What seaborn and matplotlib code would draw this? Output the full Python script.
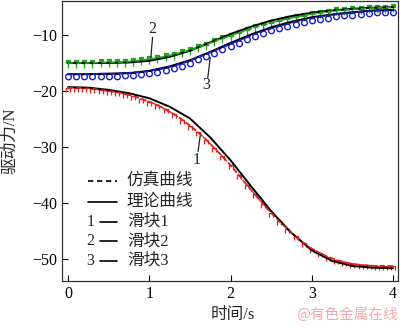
import numpy as np
import pandas as pd
import matplotlib
matplotlib.use("Agg")
import matplotlib.pyplot as plt
from matplotlib.path import Path
import seaborn as sns

# ---- data ----
t_theory = [0, 0.25, 0.5, 0.75, 1, 1.25, 1.5, 1.75, 2, 2.25, 2.5, 2.75, 3, 3.25, 3.5, 3.75, 4]
red_theory = [-19.3, -19.4, -19.8, -20.4, -21.3, -22.8, -24.9, -28.3, -32.4, -37.0, -41.5,
              -45.4, -48.5, -50.4, -51.3, -51.6, -51.7]
green_theory = [-15.0, -15.0, -15.0, -14.9, -14.6, -13.9, -12.8, -11.3, -9.8, -8.5, -7.4,
                -6.6, -6.0, -5.6, -5.3, -5.1, -5.0]
blue_theory = [-17.0, -17.0, -16.9, -16.8, -16.4, -15.6, -14.5, -13.0, -11.4, -9.9, -8.6,
               -7.6, -6.8, -6.3, -5.9, -5.6, -5.5]

t_sim = [0.0, 0.1, 0.2, 0.3, 0.4, 0.5, 0.6, 0.7, 0.8, 0.9, 1.0, 1.1, 1.2, 1.3, 1.4, 1.5, 1.6,
         1.7, 1.8, 1.9, 2.0, 2.1, 2.2, 2.3, 2.4, 2.5, 2.6, 2.7, 2.8, 2.9, 3.0, 3.1, 3.2, 3.3,
         3.4, 3.5, 3.6, 3.7, 3.8, 3.9, 4.0]
red_sim = [-19.4, -19.4, -19.5, -19.6, -19.8, -20.0, -20.2, -20.5, -20.9, -21.4, -21.9, -22.5,
           -23.3, -24.1, -25.1, -26.2, -27.4, -28.7, -30.2, -31.7, -33.3, -35.0, -36.8, -38.5,
           -40.2, -41.8, -43.3, -44.7, -46.0, -47.2, -48.2, -49.0, -49.7, -50.2, -50.6, -50.9,
           -51.1, -51.2, -51.3, -51.3, -51.3]
green_sim = [-15.0, -15.0, -15.0, -15.0, -14.9, -14.9, -14.9, -14.8, -14.7, -14.5, -14.3, -14.1,
             -13.8, -13.5, -13.1, -12.7, -12.2, -11.7, -11.1, -10.6, -10.1, -9.6, -9.1, -8.6,
             -8.2, -7.8, -7.4, -7.1, -6.8, -6.5, -6.2, -6.0, -5.8, -5.6, -5.5, -5.4, -5.3, -5.2,
             -5.1, -5.1, -5.0]
blue_sim = [-17.0, -17.0, -17.0, -17.0, -16.9, -16.9, -16.9, -16.8, -16.7, -16.6, -16.4, -16.2,
            -15.9, -15.5, -15.1, -14.6, -14.0, -13.4, -12.8, -12.2, -11.6, -11.0, -10.4, -9.8,
            -9.3, -8.8, -8.4, -8.0, -7.6, -7.3, -7.0, -6.7, -6.5, -6.3, -6.1, -6.0, -5.8, -5.7,
            -5.6, -5.6, -5.5]

x_ticks = [0, 1, 2, 3, 4]
y_ticks = [-50, -40, -30, -20, -10]
legend_labels = ["仿真曲线", "理论曲线", "滑块1", "滑块2", "滑块3"]

sns.set_style("ticks")
FAM = ["Liberation Serif", "Noto Sans CJK SC"]
plt.rcParams["font.family"] = FAM
plt.rcParams["axes.unicode_minus"] = True
FS = 11.5

fig = plt.figure(figsize=(4.0, 3.28), dpi=100)
ax = fig.add_axes([0.155, 0.143, 0.84, 0.854])

RED, GREEN, BLUE = "#e01e1e", "#1fa51f", "#1c1cd0"

# custom markers
red_marker = Path([(-0.5, -1.0), (-0.5, 0.0), (0.5, 0.0), (0.5, -1.0)],
                  [Path.MOVETO, Path.LINETO, Path.LINETO, Path.LINETO])
blue_marker = Path.circle((0, -0.45), 0.55)
sq = Path([(-0.4, -0.05), (0.4, -0.05), (0.4, 0.6), (-0.4, 0.6), (-0.4, -0.05)],
          [Path.MOVETO, Path.LINETO, Path.LINETO, Path.LINETO, Path.CLOSEPOLY])
gstem = Path([(0, 0), (0, -1.0)], [Path.MOVETO, Path.LINETO])
green_marker = Path.make_compound_path(sq, gstem)

df_sim = pd.DataFrame({"t": t_sim, "red": red_sim, "green": green_sim, "blue": blue_sim})
df_th = pd.DataFrame({"t": t_theory, "red": red_theory, "green": green_theory, "blue": blue_theory})

# simulation curves (markers)
sns.lineplot(data=df_sim, x="t", y="green", ax=ax, color=GREEN, lw=1.0, linestyle="--",
             marker=green_marker, markersize=7, markerfacecolor=GREEN, markeredgecolor=GREEN,
             markeredgewidth=0.9, zorder=2)
sns.lineplot(data=df_sim, x="t", y="blue", ax=ax, color=BLUE, lw=1.0, linestyle="--",
             marker=blue_marker, markersize=7.5, markerfacecolor="none", markeredgecolor=BLUE,
             markeredgewidth=1.0, zorder=2)
sns.lineplot(data=df_sim, x="t", y="red", ax=ax, color=RED, lw=1.0, linestyle="--",
             marker=red_marker, markersize=6, markerfacecolor="none", markeredgecolor=RED,
             markeredgewidth=0.9, zorder=2)

# theory curves
for col in ["green", "blue", "red"]:
    sns.lineplot(data=df_th, x="t", y=col, ax=ax, color="black", lw=1.4, zorder=3)

# dashed sim lines on top
for col, c in [("green", GREEN), ("blue", BLUE), ("red", RED)]:
    sns.lineplot(data=df_sim, x="t", y=col, ax=ax, color=c, lw=1.2, linestyle=(0, (3, 2)), zorder=4)

ax.set_xlim(-0.074, 4.06)
ax.set_ylim(-54.0, -3.9)
ax.set_xticks(x_ticks)
ax.set_yticks(y_ticks)
ax.tick_params(direction="in", length=4, width=0.8, labelsize=FS, colors="black",
               top=False, right=False)
for s in ax.spines.values():
    s.set_visible(True)
    s.set_color("#333333")
    s.set_linewidth(0.9)
ax.set_xlabel("")
ax.set_ylabel("")

# curve labels with leader lines
for txt, tx, ty, x0, y0, x1, y1 in [("2", 1.04, -8.9, 1.04, -10.4, 1.02, -13.9),
                                     ("3", 1.70, -19.0, 1.75, -14.0, 1.72, -17.6),
                                     ("1", 1.58, -32.4, 1.63, -27.6, 1.60, -30.8)]:
    ax.text(tx, ty, txt, fontsize=FS, ha="center", va="center", family=FAM)
    ax.plot([x0, x1], [y0, y1], color="#222222", lw=0.9)

# manual legend (axes fraction)
rows = [0.358, 0.282, 0.212, 0.143, 0.072]
tr = ax.transAxes
ax.plot([0.077, 0.164], [rows[0]] * 2, transform=tr, color="black", lw=1.2, ls=(0, (3.2, 2.2)))
ax.plot([0.077, 0.164], [rows[1]] * 2, transform=tr, color="black", lw=1.2)
for i, n in enumerate(["1", "2", "3"]):
    y = rows[2 + i]
    ax.text(0.085, y, n, transform=tr, fontsize=FS, ha="center", va="center", family=FAM)
    ax.plot([0.113, 0.164], [y, y], transform=tr, color="black", lw=1.2)
for lab, y in zip(legend_labels, rows):
    ax.text(0.193, y, lab, transform=tr, fontsize=FS + 0.5, ha="left", va="center", family=FAM)

fig.text(0.583, 0.04, "时间/s", fontsize=FS + 0.5, ha="center", va="center", family=FAM)
fig.text(0.027, 0.57, "驱动力/N", fontsize=FS + 0.5, ha="center", va="center",
         rotation=90, family=FAM)
fig.text(0.995, 0.04, "@有色金属在线", fontsize=10.5, ha="right", va="center",
         color="#f2a9a9", family=["Noto Sans CJK SC"])

fig.savefig("out.png", dpi=100)
